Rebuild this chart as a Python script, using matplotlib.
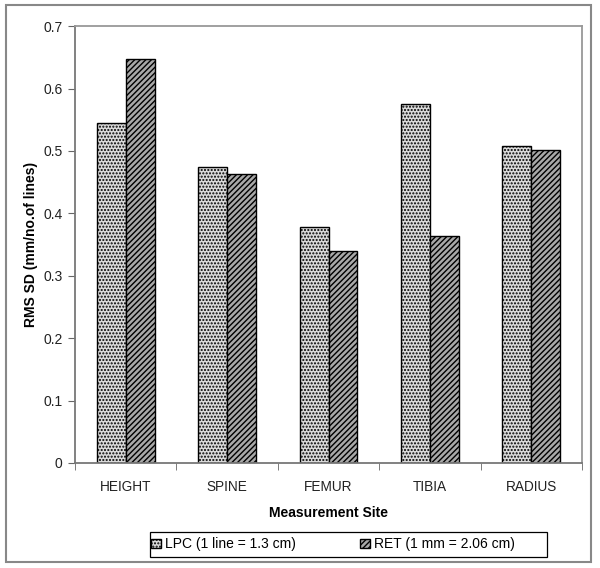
import matplotlib.pyplot as plt
import numpy as np
from matplotlib.patches import Rectangle

plt.rcParams['font.family'] = ['Liberation Sans', 'DejaVu Sans']
plt.rcParams['hatch.linewidth'] = 1.0

# data
sites = ['HEIGHT', 'SPINE', 'FEMUR', 'TIBIA', 'RADIUS']
lpc = [0.544, 0.474, 0.378, 0.576, 0.508]
ret = [0.648, 0.463, 0.340, 0.363, 0.501]
series_names = ['LPC (1 line = 1.3 cm)', 'RET (1 mm = 2.06 cm)']

fig = plt.figure(figsize=(6, 5.68), dpi=100)
ax = fig.add_axes([0.125, 0.185, 0.845, 0.769])

x = np.arange(len(sites))
w = 0.285
b1 = ax.bar(x - w / 2, lpc, w, facecolor='#dadada', edgecolor='black',
            hatch='.' * 5, linewidth=1, label=series_names[0])
b2 = ax.bar(x + w / 2, ret, w, facecolor='#a8a8a8', edgecolor='black',
            hatch='/' * 6, linewidth=1, label=series_names[1])

ax.set_xlim(-0.5, len(sites) - 0.5)
ax.set_ylim(0, 0.7)
ax.set_yticks(np.arange(0, 0.71, 0.1))
ax.set_yticklabels(['0', '0.1', '0.2', '0.3', '0.4', '0.5', '0.6', '0.7'])
ax.set_xticks(x)
ax.set_xticklabels(sites)
ax.set_xticks(np.arange(-0.5, len(sites)), minor=True)
ax.tick_params(axis='x', which='major', length=0, pad=12, labelsize=9.8, colors='#222222')
ax.tick_params(axis='x', which='minor', length=5, direction='out', color='#666666')
ax.tick_params(axis='y', length=5, direction='out', color='#666666', labelsize=10,
               colors='#222222', pad=4)

for s in ['left', 'bottom']:
    ax.spines[s].set_color('#777777')
    ax.spines[s].set_linewidth(1.3)
for s in ['top', 'right']:
    ax.spines[s].set_color('#999999')
    ax.spines[s].set_linewidth(1.3)

ax.set_ylabel('RMS SD (mm/no.of lines)', fontsize=10, fontweight='bold', labelpad=4)
ax.set_xlabel('Measurement Site', fontsize=10, fontweight='bold', labelpad=9)

leg = fig.legend(handles=[b1, b2], labels=series_names, loc='center',
                 bbox_to_anchor=(0.555, 0.0414), ncol=2, fontsize=10,
                 frameon=False, handlelength=0.7, handleheight=0.7,
                 handletextpad=0.3, columnspacing=4.6, borderpad=0,
                 borderaxespad=0)

# legend box, drawn separately so the entries sit to the left like the original
fig.patches.append(Rectangle((150 / 600, 11 / 568), 397 / 600, 25 / 568,
                             transform=fig.transFigure, fill=False,
                             edgecolor='black', linewidth=0.9))

# outer chart border
fig.patches.append(Rectangle((6 / 600, 6 / 568), 585 / 600, 557 / 568,
                             transform=fig.transFigure, fill=False,
                             edgecolor='#888888', linewidth=1.5))

fig.savefig('out.png', dpi=100)
